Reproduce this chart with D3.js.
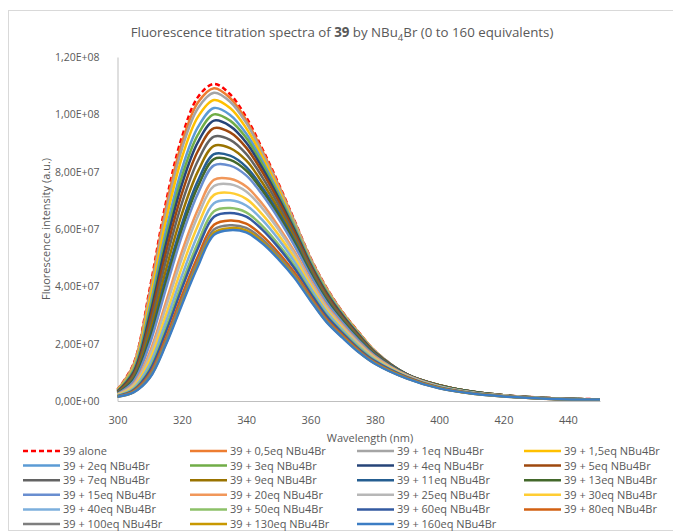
<!DOCTYPE html>
<html><head><meta charset="utf-8">
<script src="https://cdn.jsdelivr.net/npm/d3@7"></script>
<style>
body{margin:0;background:#fff;}
text{font-family:"Segoe UI","Open Sans","Noto Sans",sans-serif;fill:#595959;}
</style></head>
<body><svg id="chart" width="673" height="532"></svg>
<script>
// ---- data (intensity in units of 1e7 a.u.) ----
const wavelengths = [300,305,310,315,320,325,330,335,340,345,350,355,360,365,370,375,380,390,400,410,420,435,450];
const alone  = [0.40,1.30,3.90,6.90,9.20,10.60,11.06,10.70,9.90,8.80,7.60,6.30,5.00,3.95,3.10,2.40,1.75,0.92,0.55,0.33,0.20,0.10,0.06];
const eq0_5  = [0.39,1.27,3.78,6.72,9.00,10.41,10.91,10.57,9.80,8.73,7.55,6.27,4.98,3.93,3.09,2.39,1.75,0.92,0.55,0.33,0.20,0.10,0.06];
const eq1    = [0.38,1.23,3.66,6.53,8.79,10.21,10.75,10.44,9.70,8.65,7.49,6.24,4.96,3.91,3.07,2.38,1.74,0.93,0.55,0.33,0.20,0.10,0.06];
const eq1_5  = [0.37,1.17,3.49,6.26,8.48,9.91,10.50,10.22,9.52,8.52,7.39,6.16,4.90,3.87,3.04,2.36,1.73,0.92,0.55,0.33,0.20,0.10,0.06];
const eq2    = [0.35,1.10,3.26,5.91,8.09,9.55,10.22,9.98,9.33,8.38,7.28,6.10,4.86,3.83,3.02,2.34,1.72,0.93,0.55,0.33,0.20,0.10,0.06];
const eq3    = [0.34,1.05,3.11,5.67,7.82,9.29,10.00,9.78,9.18,8.26,7.19,6.03,4.81,3.80,2.99,2.32,1.71,0.93,0.55,0.33,0.20,0.10,0.06];
const eq4    = [0.33,1.00,2.96,5.44,7.55,9.03,9.78,9.59,9.02,8.13,7.10,5.97,4.77,3.76,2.97,2.30,1.70,0.93,0.55,0.33,0.20,0.10,0.06];
const eq5    = [0.31,0.94,2.78,5.16,7.23,8.72,9.52,9.37,8.84,7.99,6.99,5.89,4.71,3.71,2.93,2.27,1.68,0.93,0.55,0.33,0.20,0.09,0.06];
const eq7    = [0.30,0.88,2.59,4.87,6.89,8.38,9.22,9.11,8.62,7.81,6.85,5.78,4.64,3.65,2.89,2.24,1.66,0.92,0.54,0.32,0.20,0.09,0.06];
const eq9    = [0.28,0.82,2.39,4.55,6.52,8.01,8.90,8.82,8.39,7.62,6.70,5.67,4.55,3.59,2.84,2.20,1.64,0.92,0.54,0.32,0.19,0.09,0.06];
const eq11   = [0.27,0.76,2.20,4.25,6.17,7.68,8.61,8.56,8.17,7.45,6.57,5.58,4.48,3.53,2.80,2.17,1.62,0.92,0.53,0.32,0.19,0.09,0.06];
const eq13   = [0.26,0.72,2.10,4.09,5.98,7.48,8.44,8.41,8.04,7.34,6.48,5.51,4.43,3.49,2.77,2.14,1.60,0.91,0.53,0.32,0.19,0.09,0.06];
const eq15   = [0.25,0.68,1.98,3.89,5.75,7.24,8.22,8.21,7.87,7.20,6.37,5.42,4.37,3.44,2.73,2.11,1.58,0.90,0.52,0.31,0.19,0.09,0.06];
const eq20   = [0.23,0.59,1.69,3.43,5.20,6.68,7.72,7.75,7.48,6.88,6.10,5.22,4.22,3.32,2.64,2.04,1.54,0.89,0.51,0.30,0.19,0.09,0.05];
const eq25   = [0.22,0.55,1.58,3.25,4.97,6.45,7.50,7.56,7.31,6.73,5.99,5.13,4.14,3.26,2.59,2.01,1.51,0.88,0.51,0.30,0.18,0.08,0.05];
const eq30   = [0.21,0.50,1.42,2.98,4.65,6.12,7.19,7.26,7.05,6.51,5.81,4.99,4.04,3.17,2.53,1.95,1.48,0.86,0.49,0.29,0.18,0.08,0.05];
const eq40   = [0.19,0.45,1.27,2.75,4.36,5.81,6.90,7.00,6.82,6.32,5.65,4.86,3.94,3.10,2.47,1.91,1.45,0.85,0.49,0.29,0.18,0.08,0.05];
const eq50   = [0.18,0.41,1.14,2.54,4.10,5.52,6.62,6.73,6.58,6.11,5.47,4.72,3.83,3.01,2.40,1.86,1.41,0.83,0.48,0.28,0.17,0.08,0.05];
const eq60   = [0.17,0.38,1.06,2.39,3.92,5.33,6.43,6.56,6.43,5.98,5.36,4.63,3.76,2.96,2.36,1.82,1.39,0.83,0.47,0.28,0.17,0.08,0.05];
const eq80   = [0.16,0.35,0.94,2.19,3.67,5.05,6.15,6.30,6.19,5.77,5.18,4.48,3.64,2.86,2.29,1.77,1.35,0.81,0.46,0.27,0.17,0.07,0.05];
const eq100  = [0.16,0.32,0.88,2.08,3.52,4.89,5.98,6.13,6.04,5.64,5.07,4.39,3.57,2.80,2.24,1.73,1.32,0.79,0.45,0.27,0.16,0.07,0.05];
const eq130  = [0.15,0.31,0.82,1.99,3.41,4.77,5.87,6.03,5.95,5.56,5.00,4.34,3.53,2.77,2.22,1.71,1.31,0.79,0.45,0.26,0.16,0.07,0.05];
const eq160  = [0.15,0.30,0.80,1.95,3.35,4.70,5.80,5.96,5.88,5.50,4.95,4.30,3.50,2.75,2.20,1.70,1.30,0.78,0.44,0.26,0.16,0.07,0.05];

const seriesNames = ["39 alone","39 + 0,5eq NBu4Br","39 + 1eq NBu4Br","39 + 1,5eq NBu4Br",
  "39 + 2eq NBu4Br","39 + 3eq NBu4Br","39 + 4eq NBu4Br","39 + 5eq NBu4Br",
  "39 + 7eq NBu4Br","39 + 9eq NBu4Br","39 + 11eq NBu4Br","39 + 13eq NBu4Br",
  "39 + 15eq NBu4Br","39 + 20eq NBu4Br","39 + 25eq NBu4Br","39 + 30eq NBu4Br",
  "39 + 40eq NBu4Br","39 + 50eq NBu4Br","39 + 60eq NBu4Br","39 + 80eq NBu4Br",
  "39 + 100eq NBu4Br","39 + 130eq NBu4Br","39 + 160eq NBu4Br"];
const seriesValues = [alone,eq0_5,eq1,eq1_5,eq2,eq3,eq4,eq5,eq7,eq9,eq11,eq13,eq15,eq20,eq25,eq30,eq40,eq50,eq60,eq80,eq100,eq130,eq160];

const xTicks = [300,320,340,360,380,400,420,440];
const yTicks = [0,2,4,6,8,10,12];
const yTickLabels = ["0,00E+00","2,00E+07","4,00E+07","6,00E+07","8,00E+07","1,00E+08","1,20E+08"];

// ---- styles ----
const seriesColors = ["#FF0000","#ED7D31","#A5A5A5","#FFC000","#5B9BD5","#70AD47","#264478","#9E480E",
  "#636363","#997300","#255E91","#43682B","#698ED0","#F1975A","#B7B7B7","#FFCD33",
  "#7CAFDD","#8CC168","#335AA1","#D26012","#7E7E7E","#C89800","#3C7DC4"];

const svg = d3.select("#chart");
// chart frame
svg.append("rect").attr("x",8.5).attr("y",10.5).attr("width",670).attr("height",520)
  .attr("fill","none").attr("stroke","#D9D9D9");

const x = d3.scaleLinear().domain([300,450]).range([117.5,600]);
const y = d3.scaleLinear().domain([0,12]).range([401,57]);

// title
const title = svg.append("text").attr("x",342).attr("y",37).attr("text-anchor","middle")
  .style("font-size","13.3px");
title.append("tspan").text("Fluorescence  titration spectra of ");
title.append("tspan").attr("font-weight","bold").text("39");
title.append("tspan").text(" by NBu");
title.append("tspan").attr("font-size","9.5px").attr("dy",4).text("4");
title.append("tspan").attr("dy",-4).text("Br (0 to 160 equivalents)");

// axes
const xAxis = d3.axisBottom(x).tickValues(xTicks).tickSize(0).tickPadding(15).tickFormat(d3.format("d"));
const gx = svg.append("g").attr("transform","translate(0,401)").call(xAxis);
gx.select(".domain").attr("stroke","#BFBFBF").attr("stroke-width",1.2);
gx.selectAll("text").style("font-size","11px").attr("fill","#595959").style("font-family",null);

const yAxis = d3.axisLeft(y).tickValues(yTicks).tickSize(0).tickPadding(18)
  .tickFormat((d,i)=>yTickLabels[i]);
const gy = svg.append("g").attr("transform","translate(117.5,0)").call(yAxis);
gy.select(".domain").attr("stroke","#BFBFBF").attr("stroke-width",1);
gy.selectAll("text").style("font-size","10.5px").attr("fill","#595959").style("font-family",null);

// axis titles
svg.append("text").attr("x",370).attr("y",442).attr("text-anchor","middle")
  .style("font-size","11px").text("Wavelength (nm)");
svg.append("text").attr("transform","translate(50,229) rotate(-90)").attr("text-anchor","middle")
  .style("font-size","11px").text("Fluorescence intensity (a.u.)");

// lines
const line = d3.line().x((d,i)=>x(wavelengths[i])).y(d=>y(d)).curve(d3.curveCatmullRom.alpha(0.5));
const plot = svg.append("g");
seriesValues.forEach((vals,k)=>{
  plot.append("path").datum(vals).attr("d",line).attr("fill","none")
    .attr("stroke",seriesColors[k]).attr("stroke-width",2.5)
    .attr("stroke-linejoin","round")
    .attr("stroke-dasharray", k===0 ? "5,3" : null);
});

// legend
const legend = svg.append("g");
seriesNames.forEach((name,k)=>{
  const col = k % 4, row = Math.floor(k/4);
  const lx = 23 + col*167, ly = 451 + row*14.6;
  legend.append("line").attr("x1",lx).attr("x2",lx+37).attr("y1",ly).attr("y2",ly)
    .attr("stroke",seriesColors[k]).attr("stroke-width",2.5)
    .attr("stroke-dasharray", k===0 ? "5,3" : null);
  legend.append("text").attr("x",lx+40).attr("y",ly+4).style("font-size","11px").text(name);
});
</script></body></html>
